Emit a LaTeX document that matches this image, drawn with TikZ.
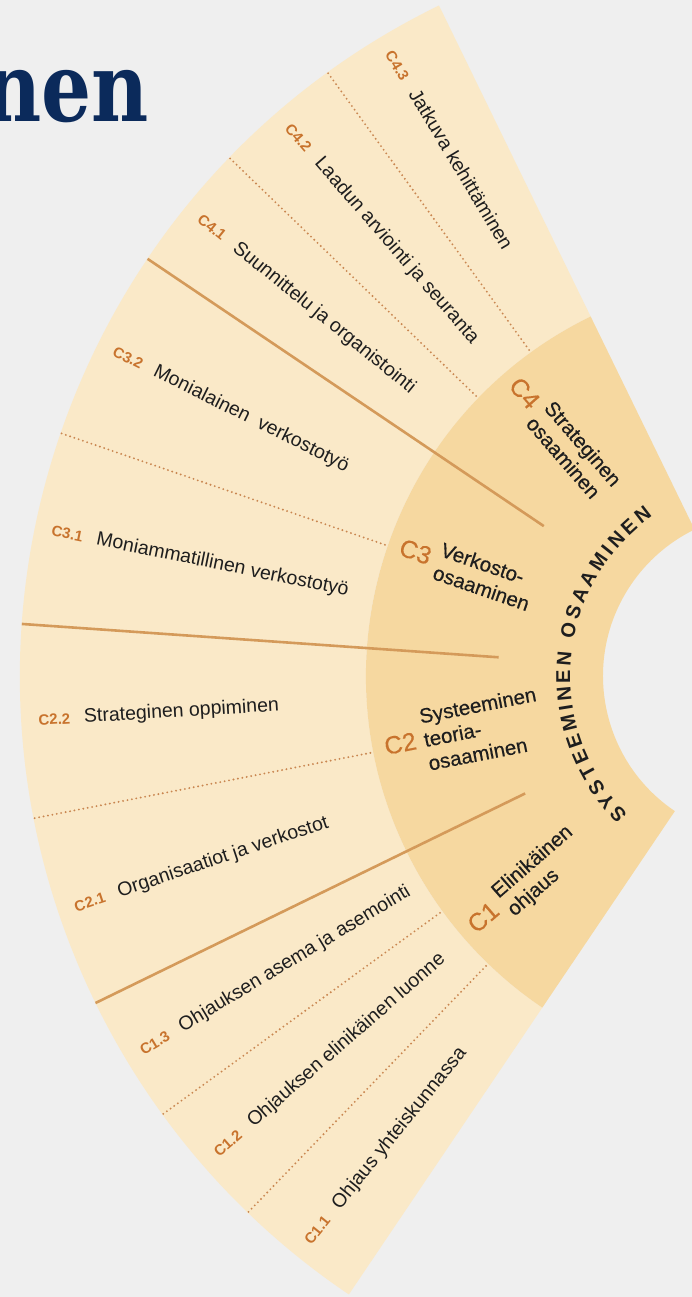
\documentclass[tikz,border=0pt]{standalone}
\usepackage{graphicx}
\usepackage{fontspec}
\setmainfont{Liberation Sans}
\newfontfamily\headfont{DejaVu Serif}
\newfontfamily\midfont[FakeBold=0.4]{Liberation Sans}
\usepackage{tikz}
\usetikzlibrary{calc}
\definecolor{bgray}{HTML}{EFEFEF}
\definecolor{cream}{HTML}{FAE9C8}
\definecolor{sand}{HTML}{F6D8A0}
\definecolor{rust}{HTML}{C8732D}
\definecolor{seam}{HTML}{D49A5A}
\definecolor{dots}{HTML}{C98650}
\definecolor{navy}{HTML}{0B2A5B}
\definecolor{ink}{HTML}{1E1E1E}
\newcommand{\subcode}[1]{{\color{rust}\bfseries\fontsize{15}{15}\selectfont #1}\hspace{14pt}}
\newcommand{\grpcode}[1]{{\color{rust}\fontsize{25}{25}\selectfont #1}\hspace{8pt}}
\tikzset{
	sub/.style={anchor=west, inner sep=0pt, text=ink, font=\fontsize{19.5}{22}\selectfont},
	grp/.style={anchor=west, inner sep=0pt, text=ink, font=\midfont\fontsize{20.5}{24}\selectfont},
	seamline/.style={draw=seam, line width=2.6pt},
	dotline/.style={draw=dots, line width=2.1pt, line cap=round, dash pattern=on 0pt off 4.5pt},
	arcletter/.style={inner sep=0pt, text=ink, text height=14.3pt, text depth=0pt, font=\bfseries\fontsize{20}{20}\selectfont}
}
\begin{document}
\begin{tikzpicture}[x=1pt,y=1pt]
	\useasboundingbox (0,0) rectangle (692,1297);
	\clip (0,0) rectangle (692,1297);
	\fill[bgray] (0,0) rectangle (692,1297);
	\coordinate (C) at (766,621);
	\node[anchor=base east, inner sep=0pt, text=navy] (head) at (149,1175)
		{\scalebox{0.82}[1]{\headfont\bfseries\fontsize{96}{96}\selectfont nen}};
	\fill[cream] ([shift={(116:746pt)}]C) arc[start angle=116, end angle=236, radius=746pt]
		-- ([shift={(236:400pt)}]C) arc[start angle=236, end angle=116, radius=400pt] -- cycle;
	\fill[sand] ([shift={(116:400pt)}]C) arc[start angle=116, end angle=236, radius=400pt]
		-- ([shift={(236:163pt)}]C) arc[start angle=236, end angle=116, radius=163pt] -- cycle;
	\foreach \a in {146,176,206}
		\draw[seamline] ([shift={(\a:746pt)}]C) -- ([shift={(\a:268pt)}]C);
	\foreach \a in {126,136,161,191,216,226}
		\draw[dotline] ([shift={(\a:745pt)}]C) -- ([shift={(\a:400pt)}]C);
	\foreach \a/\id/\txt [count=\i] in {
		121/C4.3/Jatkuva kehittäminen,
		131/C4.2/Laadun arviointi ja seuranta,
		141/C4.1/Suunnittelu ja organistointi,
		153.5/C3.2/Monialainen~ verkostotyö,
		168.5/C3.1/Moniammatillinen verkostotyö,
		183.5/C2.2/Strateginen oppiminen,
		198.5/C2.1/Organisaatiot ja verkostot,
		211/C1.3/Ohjauksen asema ja asemointi,
		221/C1.2/Ohjauksen elinikäinen luonne,
		231/C1.1/Ohjaus yhteiskunnassa}
		\node[sub, rotate=\a-180] (s\i) at ([shift={(\a:729pt)}]C) {\subcode{\id}\txt};
	\foreach \a/\id/\txt [count=\i] in {
		131/C4/Strateginen\\osaaminen,
		161/C3/Verkosto-\\osaaminen,
		191/C2/Systeeminen\\teoria-\\osaaminen,
		221/C1/Elinikäinen\\ohjaus}
		\node[grp, rotate=\a-180] (g\i) at ([shift={(\a:388pt)}]C)
			{\grpcode{\id}\begin{tabular}{@{}l@{}}\txt\end{tabular}};
	\xdef\arcpos{225}
	\foreach \ch/\w [count=\k] in {S/.667,Y/.667,S/.667,T/.611,E/.667,E/.667,M/.833,I/.278,N/.722,E/.667,N/.722,
		{}/.278,O/.778,S/.667,A/.722,A/.722,M/.833,I/.278,N/.722,E/.667,N/.722}{
		\pgfmathsetmacro\lang{\arcpos-\w*10*0.28364}
		\node[arcletter, rotate=\lang-90] (l\k) at ([shift={(\lang:203pt)}]C) {\ch};
		\pgfmathsetmacro\nxt{\arcpos-(\w*20+4)*0.28364}
		\xdef\arcpos{\nxt}
	}
\end{tikzpicture}
\end{document}
